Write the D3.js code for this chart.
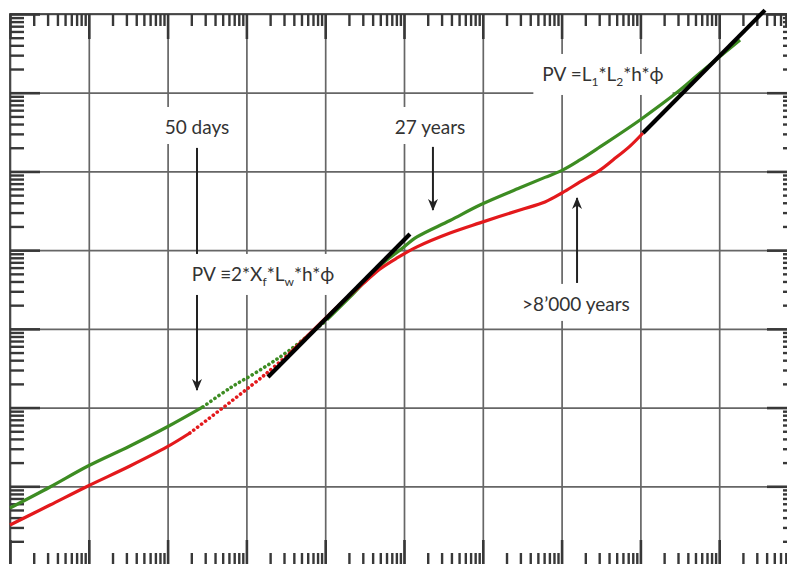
<!DOCTYPE html>
<html><head><meta charset="utf-8">
<script src="https://cdn.jsdelivr.net/npm/d3@7/dist/d3.min.js"></script>
<style>html,body{margin:0;padding:0;background:#fff;} svg{display:block;}</style>
</head><body>
<svg id="chart" width="787" height="564"></svg>
<script>
// ---- data (log-log axes, no tick labels shown) ----
const xDecades = [1, 1e1, 1e2, 1e3, 1e4, 1e5, 1e6, 1e7, 1e8, 1e9, 1e10];
const yDecades = [1, 1e1, 1e2, 1e3, 1e4, 1e5, 1e6, 1e7];
const minorSteps = [2, 3, 4, 5, 6, 7, 8, 9];

const greenCurve = [[1,5.30],[3.22,9.8],[9.77,18.1],[33.3,32.5],[98.2,56.6],[281,102],[619,177],
  [1490,300],[3570,540],[10500,1300],[20700,2540],[54200,6870],[88900,10000],[146000,14700],
  [384000,23800],[920000,37500],[2.96e6,62000],[6.15e6,84000],[1.01e7,103000],[1.71e7,140000],
  [3.07e7,205000],[9.89e7,451000],[3.18e8,1.08e6],[5.70e8,1.78e6],[1.84e9,4.68e6]];
const greenDottedRange = [281, 10500];

const redCurve = [[1,3.22],[3.22,5.78],[9.77,10.1],[33.3,18.1],[98.2,31.6],[192,47.5],[676,125],
  [1820,275],[3570,493],[11500,1550],[20700,2690],[32000,3940],[49600,5770],[81500,7950],
  [146000,11000],[384000,16500],[920000,22200],[2.96e6,32400],[6.15e6,40900],[1.01e7,53200],
  [1.71e7,73500],[3.07e7,104000],[4.49e7,140000],[7.38e7,210000],[1.08e8,308000]];
const redDottedRange = [192, 3570];

const unitSlopeEarly = [[1880,245],[119000,16000]];
const unitSlopeLate = [[1.08e8,308000],[3.81e9,1.12e7]];

const labels = [
  {x:236, y:299000, parts:[{t:"50 days"}]},
  {x:214000, y:299000, parts:[{t:"27 years"}]},
  {x:1625, y:4060, parts:[{t:"PV \u22612*X"},{t:"f",sub:true},{t:"*L"},{t:"w",sub:true},{t:"*h*\u03D5"}]},
  {x:3.35e7, y:1.41e6, parts:[{t:"PV =L"},{t:"1",sub:true},{t:"*L"},{t:"2",sub:true},{t:"*h*\u03D5"}]},
  {x:1.52e7, y:1690, parts:[{t:">8\u2019000 years"}]}
];
const arrows = [
  {x:236, from:199000, to:167},
  {x:233000, from:205000, to:32400},
  {x:1.57e7, from:3830, to:46000}
];

// ---- chart ----
const svg = d3.select("#chart");
const x = d3.scaleLog().domain([1, 1e10]).range([10, 798]);
const y = d3.scaleLog().domain([1, 1e7]).range([565, 14]);
const minorOf = ds => ds.slice(0, -1).flatMap(d => minorSteps.map(k => k * d));
const xMinor = minorOf(xDecades), yMinor = minorOf(yDecades);

const gridColor = "#666", tickColor = "#383838";

// grid
svg.append("g").attr("transform", "translate(0,565)")
  .call(d3.axisBottom(x).tickValues(xDecades).tickSize(-551).tickFormat(""))
  .call(g => g.select(".domain").remove())
  .selectAll("line").attr("stroke", gridColor).attr("stroke-width", 1.7);
svg.append("g").attr("transform", "translate(10,0)")
  .call(d3.axisLeft(y).tickValues(yDecades).tickSize(-788).tickFormat(""))
  .call(g => g.select(".domain").remove())
  .selectAll("line").attr("stroke", gridColor).attr("stroke-width", 1.7);

// frame
svg.append("rect").attr("x", x.range()[0]).attr("y", y.range()[1])
  .attr("width", x.range()[1] - x.range()[0]).attr("height", y.range()[0] - y.range()[1])
  .attr("fill", "none").attr("stroke", "#444").attr("stroke-width", 1.8);

// ticks
function ticks(axisFn, pos, vals, size, w) {
  const g = svg.append("g").attr("transform", pos)
    .call(axisFn.tickValues(vals).tickSizeInner(-size).tickSizeOuter(0).tickFormat(""));
  g.select(".domain").remove();
  g.selectAll("line").attr("stroke", tickColor).attr("stroke-width", w);
}
ticks(d3.axisTop(x), "translate(0,14)", xMinor, 12, 2.4);
ticks(d3.axisTop(x), "translate(0,14)", xDecades, 25, 2.6);
ticks(d3.axisBottom(x), "translate(0,565)", xMinor, 12, 2.4);
ticks(d3.axisBottom(x), "translate(0,565)", xDecades, 25, 2.6);
ticks(d3.axisLeft(y), "translate(10,0)", yMinor, 14, 2.4);
ticks(d3.axisLeft(y), "translate(10,0)", yDecades, 30, 2.6);
ticks(d3.axisRight(y), "translate(798,0)", yMinor, 15, 2.4);
ticks(d3.axisRight(y), "translate(798,0)", yDecades, 31, 2.6);

// arrows
const defs = svg.append("defs");
defs.append("marker").attr("id", "ah").attr("viewBox", "0 0 12 10")
  .attr("refX", 11).attr("refY", 5).attr("markerWidth", 12).attr("markerHeight", 10)
  .attr("markerUnits", "userSpaceOnUse").attr("orient", "auto")
  .append("path").attr("d", "M0,0 L12,5 L0,10 L3.5,5 Z").attr("fill", "#222");
svg.append("g").selectAll("line").data(arrows).join("line")
  .attr("x1", d => x(d.x)).attr("x2", d => x(d.x))
  .attr("y1", d => y(d.from)).attr("y2", d => y(d.to))
  .attr("stroke", "#222").attr("stroke-width", 2).attr("marker-end", "url(#ah)");

// labels with white boxes
const lg = svg.append("g");
labels.forEach(l => {
  const g = lg.append("g");
  const rect = g.append("rect").attr("fill", "#fff");
  const t = g.append("text").attr("x", x(l.x)).attr("y", y(l.y))
    .attr("text-anchor", "middle").attr("font-family", "Lato, 'Open Sans', sans-serif")
    .attr("font-size", 19).attr("fill", "#333");
  let shifted = false;
  l.parts.forEach(p => {
    const ts = t.append("tspan").text(p.t);
    if (p.sub && !shifted) { ts.attr("dy", 5).attr("font-size", 12); shifted = true; }
    else if (p.sub) { ts.attr("dy", 0).attr("font-size", 12); }
    else if (shifted) { ts.attr("dy", -5); shifted = false; }
  });
  const b = t.node().getBBox();
  rect.attr("x", b.x - 9).attr("y", b.y - 8).attr("width", b.width + 18).attr("height", b.height + 14);
});

// curves
const line = d3.line().x(d => x(d[0])).y(d => y(d[1])).curve(d3.curveCatmullRom.alpha(0.5));
function drawCurve(data, range, color) {
  const a = data.filter(d => d[0] <= range[0]);
  const b = data.filter(d => d[0] >= range[0] && d[0] <= range[1]);
  const c = data.filter(d => d[0] >= range[1]);
  [a, c].forEach(seg => svg.append("path").attr("d", line(seg)).attr("fill", "none")
    .attr("stroke", color).attr("stroke-width", 3.2).attr("stroke-linejoin", "round"));
  svg.append("path").attr("d", line(b)).attr("fill", "none").attr("stroke", color)
    .attr("stroke-width", 3.6).attr("stroke-linecap", "round").attr("stroke-dasharray", "0.1 4.8");
}
drawCurve(greenCurve, greenDottedRange, "#3d8c22");
drawCurve(redCurve, redDottedRange, "#e3191c");

const straight = d3.line().x(d => x(d[0])).y(d => y(d[1]));
[unitSlopeEarly, unitSlopeLate].forEach(s => svg.append("path").attr("d", straight(s))
  .attr("stroke", "#000").attr("stroke-width", 4.2).attr("stroke-linecap", "butt").attr("fill", "none"));
</script>
</body></html>
